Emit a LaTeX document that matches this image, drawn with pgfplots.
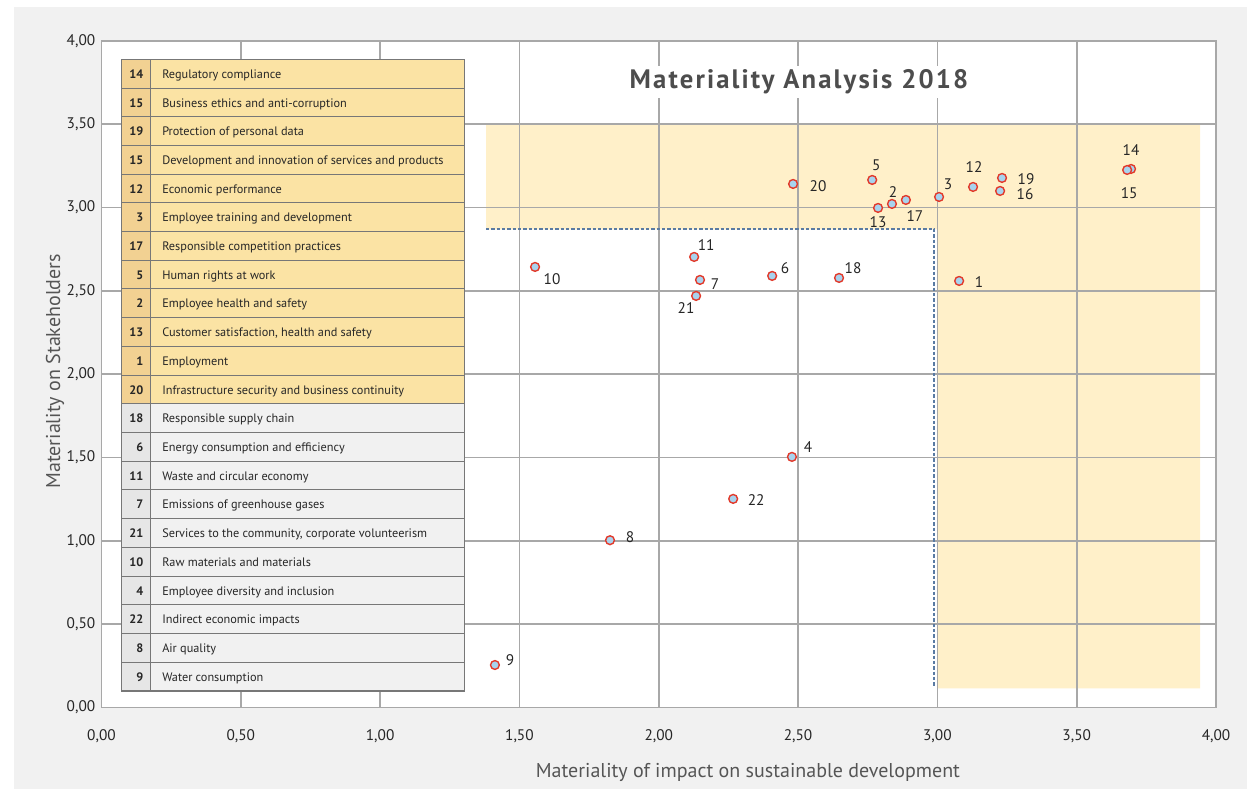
\documentclass[border=0pt]{standalone}
\usepackage{fontspec}
\setmainfont{PT Sans}
\usepackage{pgfplots}
\usepackage{pgfplotstable}
\pgfplotsset{compat=1.18}
\pgfdeclarelayer{bg}
\pgfplotsset{layers/mylayers/.define layer set={bg,axis background,axis grid,axis ticks,axis lines,axis tick labels,pre main,main,axis descriptions,axis foreground}{}}
\definecolor{panel}{HTML}{F1F1F1}
\definecolor{gridc}{HTML}{A8A8A8}
\definecolor{hl}{HTML}{FFF0C9}
\definecolor{rowy}{HTML}{FBE3A4}
\definecolor{numy}{HTML}{F2D192}
\definecolor{rowg}{HTML}{F1F1F1}
\definecolor{numg}{HTML}{E6E6E6}
\definecolor{mfill}{HTML}{A8D3EE}
\definecolor{mdraw}{HTML}{E23A2B}
\definecolor{dashc}{HTML}{5A7BA3}
\definecolor{txt}{HTML}{262626}
\definecolor{titlec}{HTML}{4D4D4D}
\definecolor{labc}{HTML}{555555}
\definecolor{tborder}{HTML}{777777}

\pgfplotstableread{
x y lab dx dy
2.482 3.142 20 25 -2
2.766 3.166 5 4 15
2.787 2.998 13 0 -14
2.837 3.022 2 1 12
2.887 3.046 17 9 -16
3.006 3.064 3 9 13
3.128 3.124 12 1 20
3.232 3.178 19 24 -1
3.225 3.100 16 25 -3
3.695 3.232 14 0 19
3.681 3.226 15 2 -23
3.078 2.560 1 20 -1
2.647 2.578 18 14 10
2.407 2.590 6 13 8
1.556 2.644 10 17 -12
2.127 2.704 11 12 12
2.148 2.566 7 15 -4
2.134 2.470 21 -10 -12
2.478 1.504 4 16 10
2.267 1.252 22 23 -1
1.825 1.004 8 20 3
1.412 0.255 9 15 5
}\points

\newcommand\tfont{\fontsize{9.2}{10}\selectfont}
\newcommand\trow[4]{%
  \fill[row#4] (150.5,{59.3+#1*28.71}) rectangle (464.5,{59.3+(#1+1)*28.71});
  \fill[num#4] (121.7,{59.3+#1*28.71}) rectangle (150.5,{59.3+(#1+1)*28.71});
  \node[anchor=base east, inner sep=0pt, font=\tfont\bfseries, text=txt] at (143.5,{59.3+#1*28.71+19}) {#2};
  \node[anchor=base west, inner sep=0pt, font=\tfont, text=txt] at (162,{59.3+#1*28.71+19}) {#3};
}

\begin{document}
\begin{tikzpicture}
\begin{scope}[shift={(-76.125pt,530.625pt)},x=0.75pt,y=-0.75pt]
  \path[use as bounding box] (0,0) rectangle (1247,789);
\end{scope}
\begin{axis}[
  set layers=mylayers,
  at={(0,0)}, anchor=south west,
  width=835.9pt, height=499.9pt, scale only axis,
  xmin=0, xmax=4, ymin=0, ymax=4,
  xtick={0,0.5,...,4}, ytick={0,0.5,...,4},
  grid=major,
  major grid style={draw=gridc, line width=1.2pt},
  axis line style={draw=gridc, line width=1.2pt},
  major tick length=0pt,
  /pgf/number format/.cd, use comma, fixed, fixed zerofill, precision=2, assume math mode=true,
  /pgfplots/.cd,
  ticklabel style={font=\fontsize{11.5}{12}\selectfont, text=txt},
  xticklabel style={anchor=base, inner sep=0pt, yshift=-25pt},
  yticklabel style={anchor=east, inner sep=0pt, xshift=-4.5pt},
  xlabel={Materiality of impact on sustainable development},
  ylabel={Materiality on Stakeholders},
  xlabel style={at={(axis description cs:0.58,0)}, anchor=base, yshift=-52.5pt, font=\fontsize{15}{18}\selectfont, text=labc},
  ylabel style={at={(axis description cs:-0.0372,0.5045)}, anchor=base, font=\fontsize{15}{18}\selectfont, text=labc},
]
\begin{pgfonlayer}{axis background}
  \fill[hl] (axis cs:1.38,3.5) -- (axis cs:3.943,3.5) -- (axis cs:3.943,0.115) -- (axis cs:3.0,0.115) -- (axis cs:3.0,2.87) -- (axis cs:1.38,2.87) -- cycle;
\end{pgfonlayer}
\addplot[dashc, line width=1.3pt, dash pattern=on 2.5pt off 1.5pt] coordinates {(1.38,2.87) (2.989,2.87) (2.989,0.123)};
\addplot[only marks, mark=*, mark size=3.3pt,
  mark options={fill=mfill, draw=mdraw, line width=1.05pt},
  nodes near coords, point meta=explicit symbolic,
  visualization depends on={\thisrow{dx} \as \dx},
  visualization depends on={\thisrow{dy} \as \dy},
  nodes near coords style={anchor=center, inner sep=0pt, xshift=\dx*0.75pt, yshift=\dy*0.75pt, font=\fontsize{11.5}{12}\selectfont, text=txt}]
  table[x=x, y=y, meta=lab] {\points};
\end{axis}
\begin{pgfonlayer}{bg}
\begin{scope}[shift={(-76.125pt,530.625pt)},x=0.75pt,y=-0.75pt]
  \fill[panel] (14,7) rectangle (1247,789);
  \fill[white] (101.5,41) rectangle (1216,707.5);
\end{scope}
\end{pgfonlayer}
\begin{scope}[shift={(-76.125pt,530.625pt)},x=0.75pt,y=-0.75pt]
  \node[fill=white, inner sep=3pt, anchor=base, text=titlec, font=\fontsize{20}{22}\selectfont\bfseries\addfontfeature{LetterSpace=8}] at (799,89) {Materiality Analysis 2018};
  \trow{0}{14}{Regulatory compliance}{y}
  \trow{1}{15}{Business ethics and anti-corruption}{y}
  \trow{2}{19}{Protection of personal data}{y}
  \trow{3}{15}{Development and innovation of services and products}{y}
  \trow{4}{12}{Economic performance}{y}
  \trow{5}{3}{Employee training and development}{y}
  \trow{6}{17}{Responsible competition practices}{y}
  \trow{7}{5}{Human rights at work}{y}
  \trow{8}{2}{Employee health and safety}{y}
  \trow{9}{13}{Customer satisfaction, health and safety}{y}
  \trow{10}{1}{Employment}{y}
  \trow{11}{20}{Infrastructure security and business continuity}{y}
  \trow{12}{18}{Responsible supply chain}{g}
  \trow{13}{6}{Energy consumption and efficiency}{g}
  \trow{14}{11}{Waste and circular economy}{g}
  \trow{15}{7}{Emissions of greenhouse gases}{g}
  \trow{16}{21}{Services to the community, corporate volunteerism}{g}
  \trow{17}{10}{Raw materials and materials}{g}
  \trow{18}{4}{Employee diversity and inclusion}{g}
  \trow{19}{22}{Indirect economic impacts}{g}
  \trow{20}{8}{Air quality}{g}
  \trow{21}{9}{Water consumption}{g}
  \foreach \k in {1,...,21} {\draw[tborder, line width=0.75pt] (121.7,{59.3+\k*28.71}) -- (464.5,{59.3+\k*28.71});}
  \draw[tborder, line width=0.75pt] (150.5,59.3) -- (150.5,691);
  \draw[tborder, line width=1pt] (121.7,59.3) rectangle (464.5,691);
\end{scope}
\end{tikzpicture}
\end{document}
